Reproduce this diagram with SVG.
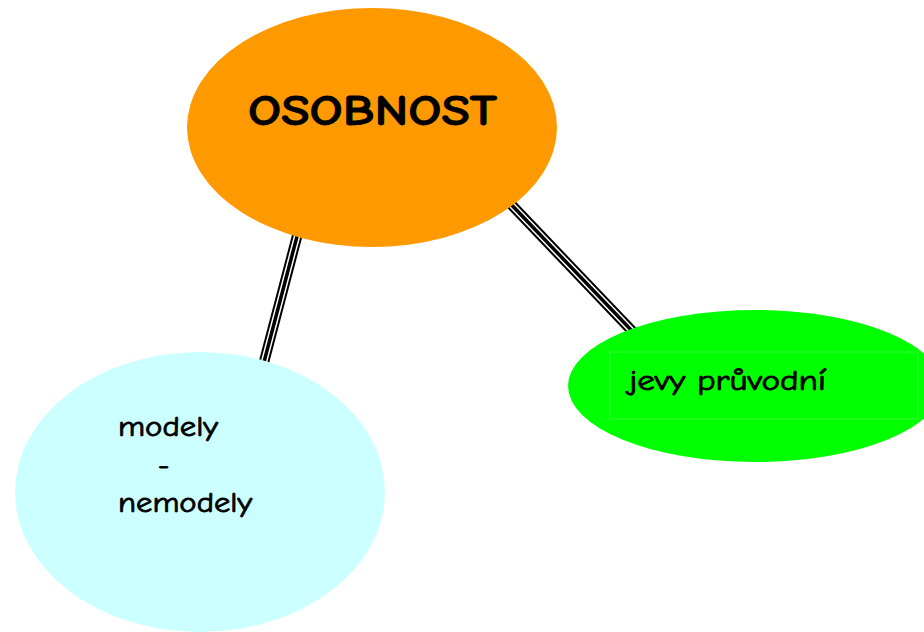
<svg xmlns="http://www.w3.org/2000/svg" width="924" height="632" viewBox="0 0 924 632">
<style>
.t{font-family:"Comic Sans MS","Comic Neue","Liberation Sans","DejaVu Sans",sans-serif;fill:#000;stroke:#000;stroke-width:0.8}
.c1{stroke:#000;stroke-width:10.5;fill:none}
.c2{stroke:#fff;stroke-width:6.5;fill:none}
.c3{stroke:#000;stroke-width:3.5;fill:none}
</style>
<rect width="924" height="632" fill="#fff"/>
<g id="connectors">
<line class="c1" x1="300" y1="225" x2="264" y2="362"/>
<line class="c2" x1="300" y1="225" x2="264" y2="362"/>
<line class="c3" x1="300" y1="225" x2="264" y2="362"/>
<line class="c1" x1="505" y1="198" x2="634" y2="333"/>
<line class="c2" x1="505" y1="198" x2="634" y2="333"/>
<line class="c3" x1="505" y1="198" x2="634" y2="333"/>
</g>
<g id="osobnost">
<ellipse cx="372" cy="127.5" rx="185" ry="119.5" fill="#FF9900"/>
<text class="t" x="248" y="125" font-size="43" font-weight="bold" stroke-width="1.2" textLength="249" lengthAdjust="spacingAndGlyphs">OSOBNOST</text>
</g>
<g id="jevy">
<ellipse cx="755" cy="386" rx="187" ry="76" fill="#00FF00"/>
<rect x="610" y="352" width="308" height="67" fill="none" stroke="#33ff33" stroke-width="1"/>
<text class="t" x="629" y="390" font-size="28" textLength="197" lengthAdjust="spacingAndGlyphs">jevy průvodní</text>
</g>
<g id="modely">
<ellipse cx="200" cy="492" rx="185" ry="140" fill="#CCFFFF"/>
<text class="t" x="118" y="436" font-size="28" textLength="100" lengthAdjust="spacingAndGlyphs">modely</text>
<text class="t" x="158" y="474" font-size="28">-</text>
<text class="t" x="118" y="512" font-size="28" textLength="134" lengthAdjust="spacingAndGlyphs">nemodely</text>
</g>
</svg>
